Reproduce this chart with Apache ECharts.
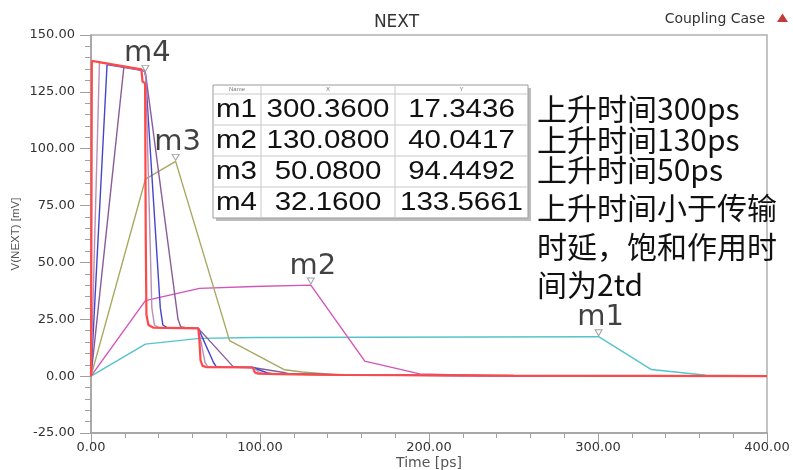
<!DOCTYPE html>
<html>
<head>
<meta charset="utf-8">
<script src="https://cdn.jsdelivr.net/npm/echarts@6/dist/echarts.min.js"></script>
<style>html,body{margin:0;padding:0;background:#fff;}#c{width:793px;height:470px;}</style>
</head>
<body>
<div id="c"></div>
<script>
// ---- data (Time [ps], V(NEXT) [mV]) ----
const xTicks = [0, 100, 200, 300, 400];
const yTicks = [-25, 0, 25, 50, 75, 100, 125, 150];

const curveRed = [[0,0],[0.5,138.6],[29.8,134.9],[30.5,129.5],[32.0,128.8],[32.4,60],[32.8,27],[34,22.5],[37,21.3],[63.5,21.0],[64.2,15],[64.8,7],[66,4.5],[68,4.0],[95.8,3.8],[96.4,2.5],[97,1.6],[99,1.1],[110,0.9],[150,0.5],[250,0.2],[400,0]];
const curveMauve = [[0,0],[5,138.0],[31.5,134.4],[32.4,132],[36,30],[37.5,22.5],[40,21.3],[63.5,21.0],[67.5,6],[69,4.3],[72,4.0],[95.8,3.8],[100,1.5],[103,1.1],[130,0.6],[250,0.2],[400,0]];
const curveBlue = [[0,0],[9.5,137.0],[31.5,134.3],[32.3,132],[41,30],[42.5,22.5],[45,21.3],[63.5,21.0],[72.5,6],[74,4.3],[77,4.0],[95.8,3.8],[104,1.5],[107,1.1],[140,0.6],[250,0.2],[400,0]];
const curvePurple = [[0,0],[19.5,136.2],[31.5,134.3],[32.3,133],[51.5,25],[53,21.8],[56,21.3],[63.5,21.0],[82.5,5.5],[84,4.3],[87,4.0],[95.8,3.8],[114,1.6],[117,1.1],[150,0.6],[250,0.2],[400,0]];
const curveOlive = [[0,0],[32.2,86.6],[50.08,94.45],[82,15.6],[114.6,2.8],[125,1.8],[145,0.6],[200,0.3],[400,0]];
const curveMagenta = [[0,0],[32.2,33.2],[64.2,38.6],[96.5,39.4],[130.08,40.04],[162,6.6],[194.5,1.0],[230,0.3],[400,0]];
const curveCyan = [[0,0],[32.2,14.1],[64.3,16.6],[96.5,17.0],[300.36,17.34],[331.6,2.9],[364,0.4],[400,0.1]];

const markerNames = ['m1', 'm2', 'm3', 'm4'];
const markerX = [300.36, 130.08, 50.08, 32.16];
const markerY = [17.3436, 40.0417, 94.4492, 133.5661];

const noteLines = ['上升时间300ps', '上升时间130ps', '上升时间50ps', '上升时间小于传输', '时延，饱和作用时', '间为2td'];

// ---- chart ----
const chart = echarts.init(document.getElementById('c'), null, {renderer: 'canvas'});

function lineSeries(name, data, color, width) {
  return {
    name: name, type: 'line', data: data, showSymbol: false, symbol: 'none',
    lineStyle: {color: color, width: width}, animation: false, z: 2
  };
}

// table graphic built from marker arrays
const tbl = {left: 213, top: 85, colX: [213, 261, 395, 528], headH: 9, rowH: 31};
const tableChildren = [];
const tblW = tbl.colX[3] - tbl.colX[0];
const tblH = tbl.headH + tbl.rowH * markerNames.length;
tableChildren.push({type: 'rect', shape: {x: tbl.colX[0] + 3, y: tbl.top + 3, width: tblW, height: tblH}, style: {fill: '#bdbdbd'}, z: 10});
tableChildren.push({type: 'rect', shape: {x: tbl.colX[0], y: tbl.top, width: tblW, height: tblH}, style: {fill: '#fff', stroke: '#9a9a9a', lineWidth: 1}, z: 11});
for (let i = 1; i < 3; i++) {
  tableChildren.push({type: 'line', shape: {x1: tbl.colX[i], y1: tbl.top, x2: tbl.colX[i], y2: tbl.top + tblH}, style: {stroke: '#c8c8c8', lineWidth: 1}, z: 12});
}
for (let r = 0; r < markerNames.length; r++) {
  const yy = tbl.top + tbl.headH + r * tbl.rowH;
  tableChildren.push({type: 'line', shape: {x1: tbl.colX[0], y1: yy, x2: tbl.colX[3], y2: yy}, style: {stroke: '#c8c8c8', lineWidth: 1}, z: 12});
}
const heads = ['Name', 'X', 'Y'];
heads.forEach((h, i) => {
  tableChildren.push({type: 'text', x: (tbl.colX[i] + tbl.colX[i + 1]) / 2, y: tbl.top + tbl.headH / 2,
    style: {text: h, fontSize: 6, fontFamily: 'Liberation Sans', fill: '#777', align: 'center', verticalAlign: 'middle'}, z: 13});
});
markerNames.forEach((n, r) => {
  const cy = tbl.top + tbl.headH + r * tbl.rowH + tbl.rowH / 2 + 1;
  const cells = [n, markerX[r].toFixed(4), markerY[r].toFixed(4)];
  cells.forEach((t, i) => {
    const cx = i === 0 ? tbl.colX[0] + 3 : (tbl.colX[i] + tbl.colX[i + 1]) / 2;
    tableChildren.push({type: 'text', x: cx, y: cy, scaleX: 1.18, scaleY: 1,
      style: {text: t, fontSize: 25, fontFamily: 'Liberation Sans', fill: '#111', align: i === 0 ? 'left' : 'center', verticalAlign: 'middle'}, z: 13});
  });
});

const noteY = [109, 140, 170, 208, 246.5, 285];
const noteChildren = noteLines.map((t, i) => ({
  type: 'text', x: 537, y: noteY[i],
  style: {text: t, fontSize: 30, fontFamily: 'Noto Sans CJK SC', fill: '#111', align: 'left', verticalAlign: 'middle'}, z: 20
}));

const option = {
  backgroundColor: '#ffffff',
  animation: false,
  title: {
    text: 'NEXT', left: 'center', top: 9,
    textStyle: {fontSize: 17, fontWeight: 'normal', fontFamily: 'DejaVu Sans', color: '#333'}
  },
  grid: {left: 91, right: 26, top: 35, bottom: 37, containLabel: false, outerBoundsMode: 'none',
    show: true, borderColor: '#b0b0b0', borderWidth: 1.5, backgroundColor: 'transparent'},
  xAxis: {
    type: 'value', min: 0, max: 400, interval: 100,
    name: 'Time [ps]', nameLocation: 'middle', nameGap: 23, nameMoveOverlap: false,
    nameTextStyle: {fontSize: 14, fontFamily: 'DejaVu Sans', color: '#555', verticalAlign: 'top'},
    axisLine: {show: true, onZero: false, lineStyle: {color: '#a0a0a0', width: 1.5}},
    axisTick: {show: true, inside: false, length: 10, lineStyle: {color: '#a0a0a0'}},
    minorTick: {show: true, splitNumber: 5, length: 5, lineStyle: {color: '#a0a0a0'}},
    splitLine: {show: false},
    axisLabel: {margin: 8, fontSize: 13, fontFamily: 'DejaVu Sans', color: '#333',
      formatter: v => xTicks.includes(v) ? v.toFixed(2) : ''}
  },
  yAxis: {
    type: 'value', min: -25, max: 150, interval: 25,
    name: 'V(NEXT) [mV]', nameLocation: 'middle', nameGap: 69, nameMoveOverlap: false,
    nameTextStyle: {fontSize: 11.5, fontFamily: 'Liberation Sans', color: '#555'},
    axisLine: {show: true, onZero: false, lineStyle: {color: '#a0a0a0', width: 1.5}},
    axisTick: {show: true, inside: false, length: 11, lineStyle: {color: '#a0a0a0'}},
    minorTick: {show: true, splitNumber: 5, length: 6, lineStyle: {color: '#a0a0a0'}},
    splitLine: {show: false},
    axisLabel: {margin: 16, fontSize: 13, fontFamily: 'DejaVu Sans', color: '#333',
      formatter: v => yTicks.includes(v) ? v.toFixed(2) : ''}
  },
  series: [
    lineSeries('300ps', curveCyan, '#55c3cc', 1.4),
    lineSeries('130ps', curveMagenta, '#d455b8', 1.4),
    lineSeries('50ps', curveOlive, '#a9a862', 1.4),
    lineSeries('20ps', curvePurple, '#8a5c9a', 1.4),
    lineSeries('10ps', curveBlue, '#4545cc', 1.4),
    lineSeries('5ps', curveMauve, '#b890b8', 1.4),
    lineSeries('1ps', curveRed, '#ff4848', 2.2),
    {
      name: 'markers', type: 'scatter', z: 5,
      data: markerNames.map((n, i) => ({name: n, value: [markerX[i], markerY[i]]})),
      symbol: 'path://M0,0L10,0L5,8Z', symbolSize: [7, 6], symbolOffset: [0, -4],
      itemStyle: {color: 'rgba(255,255,255,0)', borderColor: '#8a8a8a', borderWidth: 1},
      label: {show: true, position: 'top', distance: -3, offset: [2, 0], formatter: p => p.name,
        fontSize: 29, fontFamily: 'DejaVu Sans', color: '#111'},
      emphasis: {disabled: true}
    }
  ],
  graphic: [
    {type: 'text', right: 28, top: 12, style: {text: 'Coupling Case', fontSize: 14, fontFamily: 'DejaVu Sans', fill: '#333'}},
    {type: 'polygon', shape: {points: [[777, 22], [782.5, 13.5], [788, 22]]}, style: {fill: '#c43a3a'}},
    {type: 'group', children: tableChildren},
    {type: 'group', children: noteChildren}
  ]
};
chart.setOption(option);
</script>
</body>
</html>
